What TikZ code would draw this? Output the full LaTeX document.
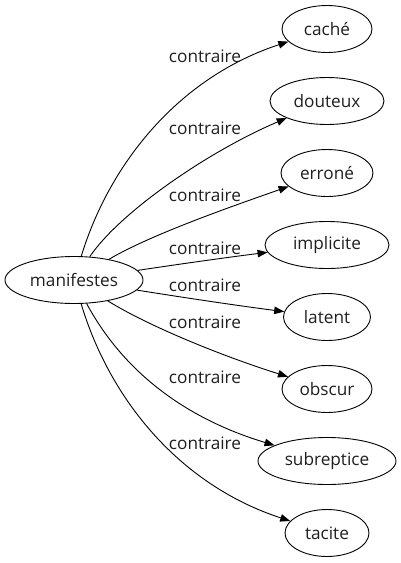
\documentclass[tikz,border=0pt]{standalone}
\usepackage{fontspec}
\setmainfont{Open Sans}
\usetikzlibrary{arrows.meta,shapes.geometric}
\begin{document}
\begin{tikzpicture}[x=1pt,y=-1pt,
  word/.style={ellipse,draw,line width=0.9pt,inner sep=0pt,minimum height=47pt,font=\fontsize{17.2}{20}\selectfont,text=black!88},
  rel/.style={font=\fontsize{17.2}{20}\selectfont,text=black!88,inner sep=0pt},
  arr/.style={line width=0.9pt,-{Triangle[length=10pt,width=7.5pt]}}]
\useasboundingbox (0,0) rectangle (400,563);
\node[word,minimum width=138pt] (m) at (74,280) {manifestes};
\node[word,minimum width=90pt] (t1) at (327,29) {caché};
\node[word,minimum width=114pt] (t2) at (327,101) {douteux};
\node[word,minimum width=92pt] (t3) at (327,173) {erroné};
\node[word,minimum width=124pt] (t4) at (327,245) {implicite};
\node[word,minimum width=87pt] (t5) at (327,317) {latent};
\node[word,minimum width=90pt] (t6) at (327,389) {obscur};
\node[word,minimum width=138pt] (t7) at (327,461) {subreptice};
\node[word,minimum width=84pt] (t8) at (327,533) {tacite};
\draw[arr] (m) .. controls (110,162) and (180,77) .. (t1);
\draw[arr] (m) .. controls (120,212) and (209,151) .. (t2);
\draw[arr] (m) .. controls (150,235) and (230,207) .. (t3);
\draw[arr] (m) .. controls (180,264) and (230,257) .. (t4);
\draw[arr] (m) .. controls (180,297) and (240,306) .. (t5);
\draw[arr] (m) .. controls (150,327) and (225,357) .. (t6);
\draw[arr] (m) .. controls (125,375) and (190,420) .. (t7);
\draw[arr] (m) .. controls (110,400) and (180,485) .. (t8);
\node[rel] (l1) at (205,56) {contraire};
\node[rel] (l2) at (205,128) {contraire};
\node[rel] (l3) at (205,195) {contraire};
\node[rel] (l4) at (205,248) {contraire};
\node[rel] (l5) at (205,285) {contraire};
\node[rel] (l6) at (205,322) {contraire};
\node[rel] (l7) at (205,377) {contraire};
\node[rel] (l8) at (205,443) {contraire};
\end{tikzpicture}
\end{document}
